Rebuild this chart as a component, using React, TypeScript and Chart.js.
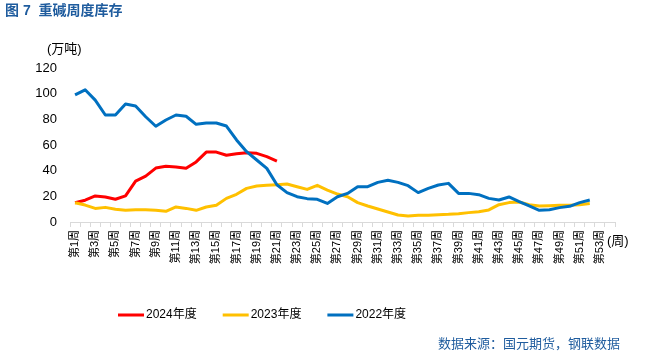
import React, { useEffect, useRef } from "react";
import { Chart, registerables } from "chart.js";

Chart.register(...registerables);

const weekLabels = [
  "第1周", "第2周", "第3周", "第4周", "第5周", "第6周", "第7周", "第8周", "第9周", "第10周",
  "第11周", "第12周", "第13周", "第14周", "第15周", "第16周", "第17周", "第18周", "第19周", "第20周",
  "第21周", "第22周", "第23周", "第24周", "第25周", "第26周", "第27周", "第28周", "第29周", "第30周",
  "第31周", "第32周", "第33周", "第34周", "第35周", "第36周", "第37周", "第38周", "第39周", "第40周",
  "第41周", "第42周", "第43周", "第44周", "第45周", "第46周", "第47周", "第48周", "第49周", "第50周",
  "第51周", "第52周", "第53周", "",
];

const series2024 = [
  15, 17, 20.3, 19.5, 17.7, 20.3, 31.9, 35.8, 42, 43.4, 42.9, 41.8, 46.8, 54.5, 54.5, 52, 53.2, 54,
  53.5, 50.9, 47.5,
];

const series2023 = [
  15, 13.2, 10.6, 11.4, 9.9, 9.1, 9.6, 9.6, 9.1, 8.3, 11.7, 10.6, 9.1, 11.7, 13, 18.4, 21.6, 26.2,
  28, 28.6, 29.1, 29.6, 27.5, 25.4, 28.6, 24.9, 21.8, 19.7, 15.1, 12.5, 10.1, 7.8, 5.5, 4.7, 5.2, 5.2,
  5.7, 6, 6.5, 7.3, 8, 9.4, 13.5, 15.1, 15.6, 13.5, 12.5, 12.7, 13, 13, 13.5, 14.5,
];

const series2022 = [
  99, 103, 95, 83.4, 83.4, 92, 90.4, 82, 74.6, 79.5, 83.4, 82.4, 76.1, 77.1, 77.1, 74.8, 63.9, 54.8,
  48.3, 41.8, 29, 22.9, 19.7, 18.2, 17.7, 14.5, 19.7, 22.3, 27.5, 27.5, 30.9, 32.5, 30.9, 28.3, 22.9,
  26.2, 28.8, 30.1, 22.3, 22.3, 21.3, 18.4, 17.1, 19.5, 15.8, 12.5, 9.1, 9.6, 11.2, 12.2, 15.1, 17.1,
];

const yTicks = [0, 20, 40, 60, 80, 100, 120];

const seriesNames = ["2024年度", "2023年度", "2022年度"];
const seriesColors = ["#FF0000", "#FFC000", "#0070C0"];

const FONT = '"Liberation Sans", "Noto Sans CJK SC", sans-serif';
const TEXT_BLUE = "#1F5C9E";

const extrasPlugin = {
  id: "extras",
  afterDraw(chart: any) {
    const ctx = chart.ctx as CanvasRenderingContext2D;
    ctx.save();
    ctx.textBaseline = "middle";
    ctx.textAlign = "left";
    ctx.fillStyle = TEXT_BLUE;
    ctx.font = `bold 14px ${FONT}`;
    ctx.fillText("图 7  重碱周度库存", 5, 11);

    ctx.fillStyle = "#000";
    ctx.font = `13px ${FONT}`;
    ctx.fillText("(万吨)", 47, 49);
    ctx.fillText("(周)", 607, 241);

    // legend
    ctx.font = `12px ${FONT}`;
    let x = 118;
    const y = 315;
    chart.data.datasets.forEach((ds: any) => {
      ctx.fillStyle = ds.borderColor;
      ctx.fillRect(x, y - 1.5, 26, 3);
      ctx.fillStyle = "#000";
      ctx.fillText(ds.label, x + 28, y);
      x += 28 + ctx.measureText(ds.label).width + 26;
    });

    ctx.textAlign = "right";
    ctx.fillStyle = TEXT_BLUE;
    ctx.font = `13px ${FONT}`;
    ctx.fillText("数据来源：国元期货，钢联数据", 620, 344);
    ctx.restore();
  },
};

export default function App() {
  const canvasRef = useRef<HTMLCanvasElement | null>(null);

  useEffect(() => {
    if (!canvasRef.current) return;
    const allSeries = [series2024, series2023, series2022];
    const chart = new Chart(canvasRef.current, {
      type: "line",
      data: {
        labels: weekLabels,
        datasets: allSeries.map((data, i) => ({
          label: seriesNames[i],
          data,
          borderColor: seriesColors[i],
          backgroundColor: seriesColors[i],
          borderWidth: 3,
          pointRadius: 0,
          tension: 0,
          fill: false,
          borderJoinStyle: "round" as const,
          order: 2 - i,
        })),
      },
      options: {
        responsive: false,
        animation: false,
        layout: { padding: { top: 68, right: 34, bottom: 75, left: 0 } },
        plugins: {
          legend: { display: false },
          title: { display: false },
          tooltip: { enabled: false },
        },
        scales: {
          x: {
            type: "category",
            offset: true,
            afterFit: (scale: any) => {
              scale.height = 60;
            },
            grid: {
              display: true,
              offset: true,
              drawOnChartArea: false,
              drawTicks: true,
              tickLength: 5,
              color: "#D9D9D9",
            },
            border: { display: true, color: "#D9D9D9", width: 1 },
            ticks: {
              autoSkip: false,
              minRotation: 90,
              maxRotation: 90,
              padding: 3,
              color: "#000",
              font: { size: 11, family: FONT },
              callback: (_v: any, idx: number) => (idx % 2 === 0 ? weekLabels[idx] : ""),
            },
          },
          y: {
            min: yTicks[0],
            max: yTicks[yTicks.length - 1],
            afterFit: (scale: any) => {
              scale.width = 70;
            },
            afterBuildTicks: (scale: any) => {
              scale.ticks = yTicks.map((v) => ({ value: v }));
            },
            grid: { display: false, drawTicks: false },
            border: { display: false },
            ticks: {
              padding: 13,
              color: "#000",
              font: { size: 13, family: FONT },
            },
          },
        },
      },
      plugins: [extrasPlugin],
    });
    return () => chart.destroy();
  }, []);

  return (
    <div style={{ position: "absolute", left: 0, top: 0, width: 649, height: 357, background: "#fff" }}>
      <canvas ref={canvasRef} width={649} height={357} />
    </div>
  );
}
